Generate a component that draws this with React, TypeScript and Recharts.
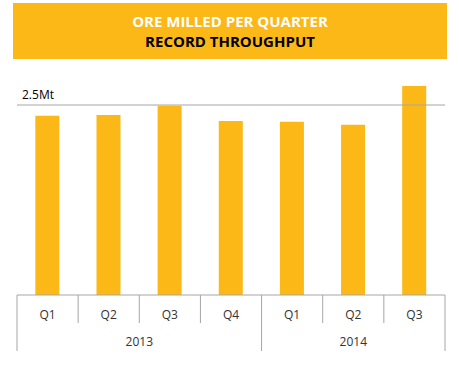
import { BarChart, Bar, XAxis, YAxis, ReferenceLine } from 'recharts';

const quarters = ['Q1', 'Q2', 'Q3', 'Q4', 'Q1', 'Q2', 'Q3'];
const oreMilled = [2.36, 2.37, 2.49, 2.29, 2.28, 2.24, 2.75];
const years = ['2013', '2014'];
const quartersPerYear = [4, 3];

const YELLOW = '#FBB817';
const GRID = '#A6A6A6';
const FONT = '"Open Sans", "Noto Sans", sans-serif';

const data = quarters.map((q, i) => ({ q, value: oreMilled[i] }));

// index of the first quarter of each year
const yearStartIdx = quartersPerYear.map((_, i) => quartersPerYear.slice(0, i).reduce((a, b) => a + b, 0));

// two-level category axis: quarter labels + year labels with separators
const QuarterTick = (props: any) => {
    const { x, y, payload, index, visibleTicksCount, width } = props;
    const bw = width && visibleTicksCount ? width / visibleTicksCount : (payload.offset || 0) * 2;
    const left = x - bw / 2;
    const right = x + bw / 2;
    const yi = yearStartIdx.indexOf(index);
    const isLast = index === visibleTicksCount - 1;
    return (
        <g>
            <line x1={left} x2={left} y1={y} y2={yi >= 0 ? y + 56 : y + 28} stroke={GRID} />
            {isLast && <line x1={right} x2={right} y1={y} y2={y + 56} stroke={GRID} />}
            <text x={x} y={y + 24} textAnchor="middle" fontSize={12} fill="#333" fontFamily={FONT}>
                {payload.value}
            </text>
            {yi >= 0 && (
                <text x={left + (quartersPerYear[yi] * bw) / 2} y={y + 51} textAnchor="middle" fontSize={12} fill="#333" fontFamily={FONT}>
                    {years[yi]}
                </text>
            )}
        </g>
    );
};

export default function App() {
    return (
        <div style={{ position: 'absolute', left: 0, top: 0, width: 459, height: 372, background: '#fff', fontFamily: FONT }}>
            <div
                style={{
                    position: 'absolute',
                    left: 13,
                    top: 3,
                    width: 434,
                    height: 56,
                    background: YELLOW,
                    textAlign: 'center',
                    fontWeight: 700,
                    fontSize: 15,
                    lineHeight: '20px',
                    paddingTop: 8,
                    boxSizing: 'border-box',
                }}
            >
                <div style={{ color: '#fff' }}>ORE MILLED PER QUARTER</div>
                <div style={{ color: '#000' }}>RECORD THROUGHPUT</div>
            </div>
            <div style={{ position: 'absolute', left: 0, top: 0 }}>
                <BarChart width={459} height={372} data={data} margin={{ top: 67, right: 14, bottom: 21, left: 17 }} barCategoryGap="30%">
                    <YAxis hide domain={[0, 3]} />
                    <XAxis
                        dataKey="q"
                        height={56}
                        axisLine={{ stroke: GRID }}
                        tickLine={false}
                        tickSize={0}
                        tickMargin={0}
                        tick={<QuarterTick />}
                        interval={0}
                    />
                    <ReferenceLine
                        y={2.5}
                        stroke={GRID}
                        strokeWidth={1}
                        label={{ value: '2.5Mt', position: 'insideTopLeft', fill: '#000', fontSize: 12, fontFamily: FONT, dx: 0, dy: -20 }}
                    />
                    <Bar dataKey="value" fill={YELLOW} isAnimationActive={false} />
                </BarChart>
            </div>
        </div>
    );
}
